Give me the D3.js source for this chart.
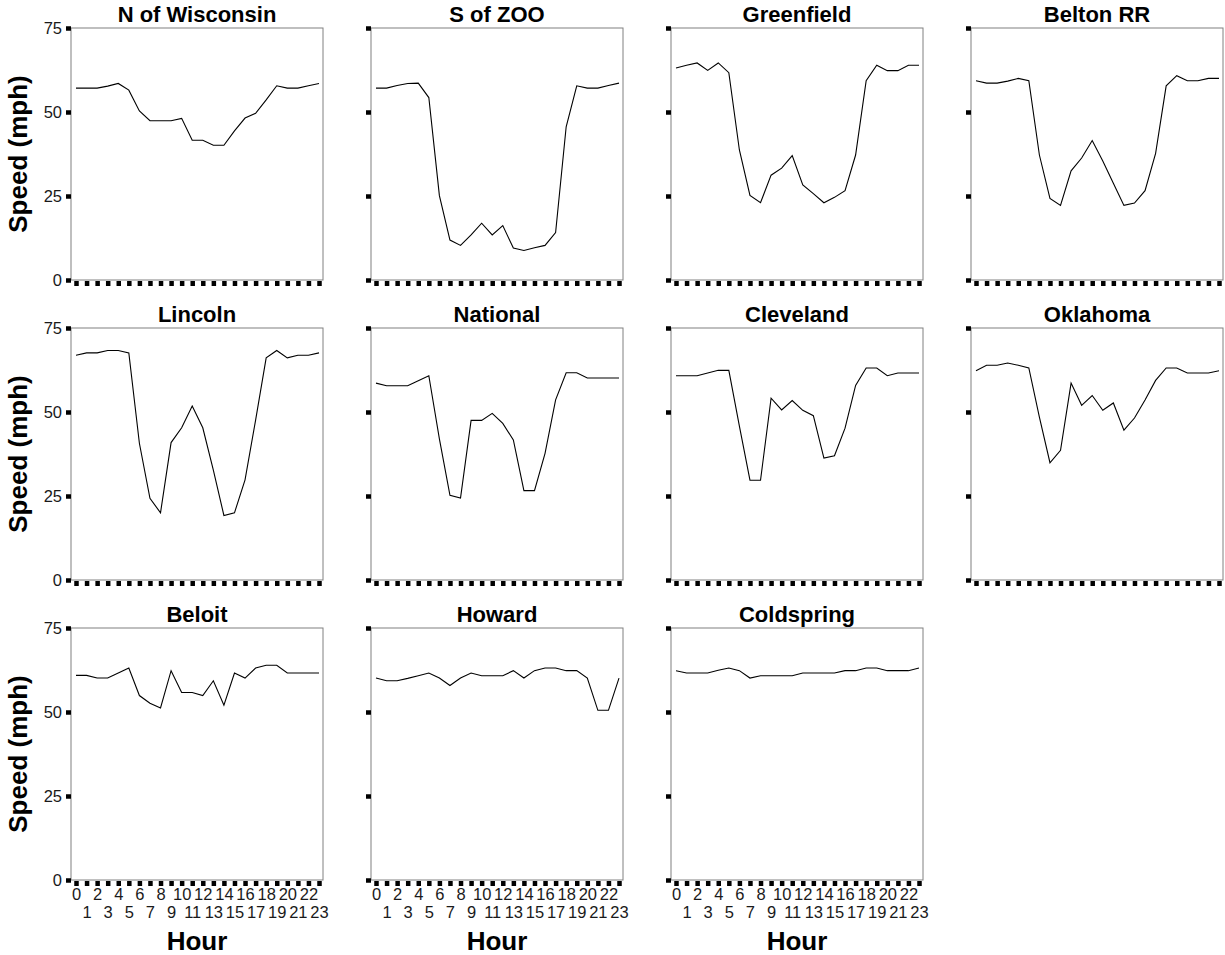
<!DOCTYPE html>
<html><head><meta charset="utf-8">
<script src="https://cdn.jsdelivr.net/npm/d3@7"></script>
<style>
body{margin:0;background:#fff}
svg{display:block}
text{font-family:"Liberation Sans",Arial,Helvetica,sans-serif}
</style>
</head><body><svg id="c" width="1225" height="955"></svg>
<script>
const hours = [0,1,2,3,4,5,6,7,8,9,10,11,12,13,14,15,16,17,18,19,20,21,22,23];
const yTicks = [0,25,50,75];
const stations = ["N of Wisconsin","S of ZOO","Greenfield","Belton RR","Lincoln","National","Cleveland","Oklahoma","Beloit","Howard","Coldspring"];

const nOfWisconsin = [57.1,57.1,57.1,57.7,58.5,56.5,50.3,47.4,47.4,47.4,48.1,41.6,41.6,40.1,40.1,44.4,48.2,49.6,53.6,57.8,57.1,57.1,57.8,58.5];
const sOfZoo       = [57.1,57.1,57.9,58.5,58.6,54.3,25.1,11.9,10.3,13.4,16.9,13.4,16.2,9.5,8.8,9.6,10.3,14.1,45.6,57.8,57.1,57.1,57.9,58.6];
const greenfield   = [63.1,63.9,64.6,62.4,64.6,61.7,38.7,25.2,23.0,31.2,33.3,37.0,28.3,25.7,23.0,24.6,26.6,37.2,59.3,63.9,62.3,62.3,63.9,63.9];
const beltonRR     = [59.3,58.6,58.6,59.2,60.0,59.3,37.2,24.3,22.2,32.5,36.3,41.5,35.4,28.8,22.2,22.9,26.6,37.7,57.8,60.8,59.3,59.3,60.0,60.0];
const lincoln      = [66.9,67.6,67.6,68.3,68.3,67.6,40.7,24.3,20.0,40.9,45.3,51.8,45.3,32.7,19.2,20.0,29.8,47.6,66.1,68.3,66.1,66.9,66.9,67.6];
const national     = [58.6,57.8,57.8,57.8,59.3,60.8,42.0,25.2,24.4,47.5,47.5,49.6,46.6,41.7,26.6,26.6,37.7,53.6,61.7,61.7,60.1,60.1,60.1,60.1];
const cleveland    = [60.8,60.8,60.8,61.6,62.4,62.4,45.8,29.7,29.7,54.1,50.6,53.4,50.5,48.9,36.3,37.0,45.2,57.9,63.1,63.1,60.8,61.6,61.6,61.6];
const oklahoma     = [62.3,63.9,63.9,64.6,63.9,63.1,48.5,34.9,38.6,58.6,52.0,54.9,50.5,52.7,44.6,48.2,53.6,59.4,63.1,63.1,61.6,61.6,61.6,62.3];
const beloit       = [60.9,60.9,60.1,60.1,61.6,63.1,54.9,52.6,51.2,62.3,55.8,55.8,54.9,59.3,52.0,61.6,60.1,63.1,63.9,63.9,61.6,61.6,61.6,61.6];
const howard       = [60.1,59.3,59.3,60.0,60.8,61.6,60.1,57.9,60.1,61.6,60.8,60.8,60.8,62.3,60.1,62.3,63.1,63.1,62.3,62.3,60.1,50.5,50.5,60.1];
const coldspring   = [62.3,61.6,61.6,61.6,62.4,63.1,62.3,60.1,60.8,60.8,60.8,60.8,61.6,61.6,61.6,61.6,62.3,62.3,63.1,63.1,62.3,62.3,62.3,63.1];

const seriesList = [nOfWisconsin,sOfZoo,greenfield,beltonRR,lincoln,national,cleveland,oklahoma,beloit,howard,coldspring];

const svg = d3.select("#c");
const W = 252, H = 252, colStep = 300, rowStep = 300, left0 = 71, top0 = 28;
const nCols = 4, nRows = 3;

stations.forEach((name, i) => {
  const c = i % nCols, r = Math.floor(i / nCols);
  const x0 = left0 + c * colStep, y0 = top0 + r * rowStep;
  const g = svg.append("g").attr("transform", `translate(${x0},${y0})`);
  const x = d3.scalePoint().domain(hours).range([5, W - 4]);
  const y = d3.scaleLinear().domain([0, 75]).range([H, 0]);
  const isBottom = (r === nRows - 1);
  const isLeft = c === 0;

  // frame
  g.append("rect").attr("x", 0).attr("y", 0).attr("width", W).attr("height", H)
    .attr("fill", "none").attr("stroke", "#808080").attr("stroke-width", 1);

  // y axis
  const ya = g.append("g").call(d3.axisLeft(y).tickValues(yTicks).tickSize(5).tickPadding(4)
      .tickFormat(isLeft ? d3.format("d") : () => ""));
  ya.select(".domain").remove();
  ya.selectAll(".tick line").attr("stroke", "#000").attr("stroke-width", 4.5).attr("x2", -5).attr("x1", 0);
  ya.selectAll(".tick text").attr("fill", "#1a1a1a").style("font-size", "16.5px").style("font-family", '"Liberation Sans",Arial,sans-serif');

  // x axis
  const xa = g.append("g").attr("transform", `translate(0,${H})`)
    .call(d3.axisBottom(x).tickSize(5).tickFormat(isBottom ? (d => d) : () => ""));
  xa.select(".domain").remove();
  xa.selectAll(".tick line").attr("stroke", "#000").attr("stroke-width", 4.5).attr("y1", 1).attr("y2", 6);
  xa.selectAll(".tick text").attr("fill", "#1a1a1a").style("font-size", "16.5px")
    .style("font-family", '"Liberation Sans",Arial,sans-serif')
    .attr("dy", null)
    .attr("y", d => (d % 2 === 0 ? 20 : 38));

  // line
  const vals = seriesList[i];
  g.append("path").datum(hours)
    .attr("fill", "none").attr("stroke", "#000").attr("stroke-width", 1.1)
    .attr("d", d3.line().x(h => x(h)).y(h => y(vals[h])));

  // title
  g.append("text").attr("x", W / 2).attr("y", -6).attr("text-anchor", "middle")
    .style("font-size", "22px").style("font-weight", "bold").attr("fill", "#000").text(name);

  if (isLeft) {
    svg.append("text").attr("transform", `translate(27,${y0 + H / 2}) rotate(-90)`)
      .attr("text-anchor", "middle").style("font-size", "26px").style("font-weight", "bold")
      .attr("fill", "#000").text("Speed (mph)");
  }
  if (isBottom) {
    svg.append("text").attr("x", x0 + W / 2).attr("y", 950).attr("text-anchor", "middle")
      .style("font-size", "26px").style("font-weight", "bold").attr("fill", "#000").text("Hour");
  }
});
</script>
</body></html>
